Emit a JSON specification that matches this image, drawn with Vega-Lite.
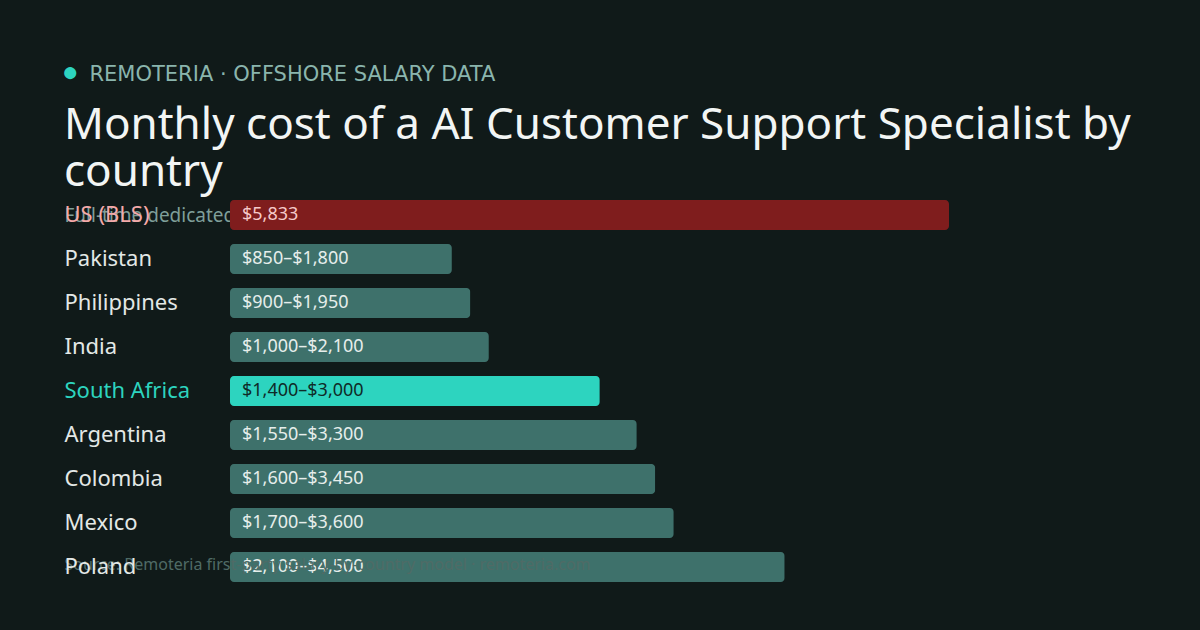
{
  "$schema": "https://vega.github.io/schema/vega-lite/v6.json",
  "width": 719,
  "height": 396,
  "autosize": "none",
  "padding": {"left": 230, "top": 193, "right": 251, "bottom": 41},
  "background": "#101a19",
  "config": {
    "view": {"stroke": null},
    "font": "Noto Sans"
  },
  "title": {
    "text": ["Monthly cost of a AI Customer Support Specialist by", "country"],
    "anchor": "start",
    "frame": "group",
    "dx": -166,
    "dy": 104,
    "offset": -33,
    "font": "Noto Sans",
    "fontSize": 44,
    "fontWeight": "normal",
    "color": "#f2f5f4",
    "lineHeight": 47
  },
  "data": {
    "values": [
      {"country": "US (BLS)", "low": 5833, "high": 5833, "label": "$5,833", "kind": "us"},
      {"country": "Pakistan", "low": 850, "high": 1800, "label": "$850–$1,800", "kind": "default"},
      {"country": "Philippines", "low": 900, "high": 1950, "label": "$900–$1,950", "kind": "default"},
      {"country": "India", "low": 1000, "high": 2100, "label": "$1,000–$2,100", "kind": "default"},
      {"country": "South Africa", "low": 1400, "high": 3000, "label": "$1,400–$3,000", "kind": "highlight"},
      {"country": "Argentina", "low": 1550, "high": 3300, "label": "$1,550–$3,300", "kind": "default"},
      {"country": "Colombia", "low": 1600, "high": 3450, "label": "$1,600–$3,450", "kind": "default"},
      {"country": "Mexico", "low": 1700, "high": 3600, "label": "$1,700–$3,600", "kind": "default"},
      {"country": "Poland", "low": 2100, "high": 4500, "label": "$2,100–$4,500", "kind": "default"}
    ]
  },
  "layer": [
    {
      "mark": {"type": "bar", "cornerRadius": 4},
      "encoding": {
        "y": {
          "field": "country",
          "type": "nominal",
          "sort": null,
          "scale": {"paddingInner": 0.318, "paddingOuter": 0.159},
          "axis": {
            "orient": "left",
            "title": "●",
            "titleAngle": 0,
            "titleX": -160,
            "titleY": -121,
            "titleAlign": "center",
            "titleBaseline": "middle",
            "titleColor": "#2dd4bf",
            "titleFontSize": 28,
            "titleFontWeight": "normal",
            "domain": false,
            "ticks": false,
            "tickSize": 0,
            "labelAlign": "left",
            "labelPadding": 166,
            "labelFont": "Noto Sans",
            "labelFontSize": 22,
            "labelColor": {"expr": "datum.value == 'South Africa' ? '#2dd4bf' : datum.value == 'US (BLS)' ? '#f4a9a9' : '#e3e8e6'"},
            "zindex": 1
          }
        },
        "x": {
          "field": "high",
          "type": "quantitative",
          "scale": {"domain": [0, 5833], "nice": false, "zero": true},
          "axis": {
            "orient": "top",
            "title": "REMOTERIA · OFFSHORE SALARY DATA",
            "titleX": -141,
            "titleY": -113,
            "titleAnchor": "start",
            "titleAlign": "left",
            "titleBaseline": "alphabetic",
            "titleColor": "#8ab5ad",
            "titleFont": "DejaVu Sans",
            "titleFontSize": 21,
            "titleFontWeight": "normal",
            "labels": false,
            "ticks": false,
            "domain": false,
            "grid": false
          }
        },
        "color": {
          "field": "kind",
          "type": "nominal",
          "scale": {"domain": ["us", "highlight", "default"], "range": ["#7f1d1d", "#2dd4bf", "#3e716b"]},
          "legend": null
        }
      }
    },
    {
      "mark": {"type": "text", "align": "left", "baseline": "middle", "dx": 12, "font": "Noto Sans", "fontSize": 18},
      "encoding": {
        "y": {
          "field": "country",
          "type": "nominal",
          "sort": null,
          "axis": {
            "orient": "right",
            "title": "Full-time dedicated hire, fully loaded monthly cost in USD",
            "titleAngle": 0,
            "titleX": -885,
            "titleY": 28,
            "titleAlign": "left",
            "titleBaseline": "alphabetic",
            "titleColor": "#7f9f99",
            "titleFont": "Noto Sans",
            "titleFontSize": 19,
            "titleFontWeight": "normal",
            "titleLimit": 1000,
            "labels": false,
            "ticks": false,
            "domain": false,
            "grid": false,
            "zindex": 0
          }
        },
        "x": {
          "datum": 0,
          "type": "quantitative",
          "axis": {
            "orient": "bottom",
            "title": "Source: Remoteria first-party salary-by-country model · remoteria.com",
            "titleX": -166,
            "titleY": -20,
            "titleAnchor": "start",
            "titleAlign": "left",
            "titleBaseline": "alphabetic",
            "titleColor": "#4f6b66",
            "titleFont": "Noto Sans",
            "titleFontSize": 16,
            "titleFontWeight": "normal",
            "labels": false,
            "ticks": false,
            "domain": false,
            "grid": false,
            "zindex": 1
          }
        },
        "text": {"field": "label"},
        "color": {
          "field": "kind",
          "type": "nominal",
          "scale": {"domain": ["us", "highlight", "default"], "range": ["#f6c9c9", "#0f2b28", "#e6eeeb"]},
          "legend": null
        }
      }
    }
  ],
  "resolve": {"axis": {"x": "independent", "y": "independent"}, "scale": {"color": "independent"}}
}
